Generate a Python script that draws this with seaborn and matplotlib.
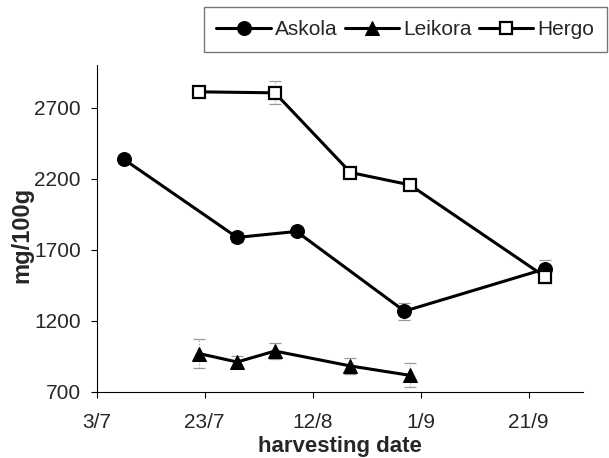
import pandas as pd
import numpy as np
import matplotlib
matplotlib.use('Agg')
import matplotlib.pyplot as plt
import seaborn as sns

# ---- data ----
askola_dates = ['2003-07-08', '2003-07-29', '2003-08-09', '2003-08-29', '2003-09-24']
askola_mg = [2337, 1786, 1828, 1267, 1564]
askola_err = [25, 35, 25, 60, 65]

leikora_dates = ['2003-07-22', '2003-07-29', '2003-08-05', '2003-08-19', '2003-08-30']
leikora_mg = [968, 909, 986, 881, 815]
leikora_err = [100, 40, 55, 55, 85]

hergo_dates = ['2003-07-22', '2003-08-05', '2003-08-19', '2003-08-30', '2003-09-24']
hergo_mg = [2811, 2804, 2243, 2156, 1510]
hergo_err = [20, 80, 25, 25, 45]

tick_dates = ['2003-07-03', '2003-07-23', '2003-08-12', '2003-09-01', '2003-09-21']
tick_labels = ['3/7', '23/7', '12/8', '1/9', '21/9']
x_range = ['2003-07-03', '2003-10-01']
y_ticks = [700, 1200, 1700, 2200, 2700]
y_range = [700, 3000]

# ---- style ----
sns.set_style('ticks')
plt.rcParams['font.family'] = ['Liberation Sans', 'DejaVu Sans']

fig = plt.figure(figsize=(6.09, 4.58), dpi=100)
ax = fig.add_axes([0.1588, 0.1448, 0.798, 0.7133])

series = [
    ('Askola', askola_dates, askola_mg, askola_err,
     dict(marker='o', markersize=10, markerfacecolor='black', markeredgecolor='black')),
    ('Leikora', leikora_dates, leikora_mg, leikora_err,
     dict(marker='^', markersize=10, markerfacecolor='black', markeredgecolor='black')),
    ('Hergo', hergo_dates, hergo_mg, hergo_err,
     dict(marker='s', markersize=9, markerfacecolor='white', markeredgecolor='black',
          markeredgewidth=1.6)),
]

for name, dates, vals, errs, mstyle in series:
    df = pd.DataFrame({'date': pd.to_datetime(dates), 'mg': vals, 'err': errs})
    # grey error bars under the markers
    eb = ax.errorbar(df['date'], df['mg'], yerr=df['err'], fmt='none',
                     ecolor='#9a9a9a', elinewidth=0.8, capsize=4, capthick=0.9, zorder=1)
    for lc in eb[2]:
        lc.set_linestyle(':')
    sns.lineplot(data=df, x='date', y='mg', ax=ax, color='black', linewidth=2.2,
                 label=name, zorder=3, **mstyle)

ax.set_xlim(pd.to_datetime(x_range[0]), pd.to_datetime(x_range[1]))
ax.set_ylim(y_range)
ax.set_xticks(pd.to_datetime(tick_dates))
ax.set_xticklabels(tick_labels)
ax.set_yticks(y_ticks)

ax.tick_params(axis='both', labelsize=15, direction='out', length=4.5, width=0.8, color='black')
ax.tick_params(axis='x', pad=11)
ax.tick_params(axis='y', pad=7)

ax.set_xlabel('harvesting date', fontsize=16, fontweight='bold', labelpad=3)
ax.set_ylabel('mg/100g', fontsize=17, fontweight='bold', labelpad=3)
ax.yaxis.set_label_coords(-0.13, 0.48)

sns.despine(ax=ax)
for s in ['left', 'bottom']:
    ax.spines[s].set_linewidth(0.8)
    ax.spines[s].set_color('black')

handles, labels = ax.get_legend_handles_labels()
ax.get_legend().remove()
leg = fig.legend(handles, labels, loc='upper right', bbox_to_anchor=(607 / 609, 1 - 7.5 / 458),
                 ncol=3, fontsize=15, frameon=True, fancybox=False, handlelength=2.6,
                 handletextpad=0.2, columnspacing=0.35, borderpad=0.62, borderaxespad=0)
leg.get_frame().set_edgecolor('#555555')
leg.get_frame().set_linewidth(1.0)

fig.savefig('out.png', dpi=100)
